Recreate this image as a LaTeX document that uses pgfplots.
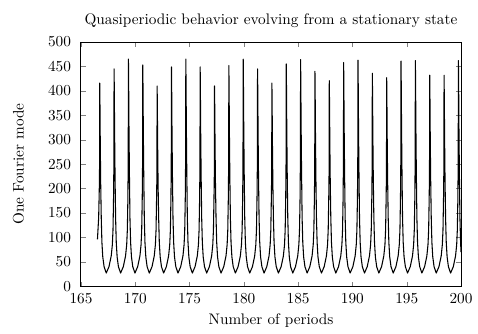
\documentclass[border=0pt]{standalone}
\usepackage{pgfplots}
\pgfplotsset{compat=1.18}
\begin{document}
\begin{tikzpicture}
\begin{axis}[
  scale only axis,
  width=249pt, height=160pt,
  xmin=165, xmax=200, ymin=0, ymax=500,
  xtick={165,170,...,200},
  ytick={0,50,...,500},
  major tick length=3pt,
  axis line style={line width=0.6pt},
  yticklabel style={xshift=-3pt},
  xticklabel style={yshift=-1.5pt},
  ylabel style={yshift=9pt},
  title={Quasiperiodic behavior evolving from a stationary state},
  xlabel={Number of periods},
  ylabel={One Fourier mode},
  clip=true,
]
\addplot[black, line width=0.7pt, line join=round] coordinates {
(166.52,96) (166.63,140) (166.68,190) (166.710,229) (166.730,416) (166.750,374) (166.780,291) (166.820,208) (166.870,140) (166.930,90) (167.010,60) (167.130,40) (167.330,27) (167.580,40)
(167.787,62) (167.891,85) (167.951,115) (168.001,180) (168.031,245) (168.051,445) (168.071,401) (168.101,312) (168.141,223) (168.191,140) (168.251,90) (168.331,60) (168.451,40) (168.651,27) (168.901,40)
(169.108,62) (169.212,85) (169.272,115) (169.322,180) (169.352,256) (169.372,465) (169.392,419) (169.422,326) (169.462,233) (169.512,140) (169.572,90) (169.652,60) (169.772,40) (169.972,27) (170.222,40)
(170.430,62) (170.534,85) (170.594,115) (170.644,180) (170.674,249) (170.694,453) (170.714,408) (170.744,317) (170.784,227) (170.834,140) (170.894,90) (170.974,60) (171.094,40) (171.294,27) (171.544,40)
(171.751,62) (171.855,85) (171.915,115) (171.965,180) (171.995,226) (172.015,410) (172.035,369) (172.065,287) (172.105,205) (172.155,140) (172.215,90) (172.295,60) (172.415,40) (172.615,27) (172.865,40)
(173.072,62) (173.176,85) (173.236,115) (173.286,180) (173.316,247) (173.336,449) (173.356,404) (173.386,314) (173.426,225) (173.476,140) (173.536,90) (173.616,60) (173.736,40) (173.936,27) (174.186,40)
(174.393,62) (174.497,85) (174.557,115) (174.607,180) (174.637,256) (174.657,465) (174.677,419) (174.707,326) (174.747,233) (174.797,140) (174.857,90) (174.937,60) (175.057,40) (175.257,27) (175.507,40)
(175.714,62) (175.818,85) (175.878,115) (175.928,180) (175.958,247) (175.978,449) (175.998,404) (176.028,314) (176.068,225) (176.118,140) (176.178,90) (176.258,60) (176.378,40) (176.578,27) (176.828,40)
(177.036,62) (177.140,85) (177.200,115) (177.250,180) (177.280,226) (177.300,410) (177.320,369) (177.350,287) (177.390,205) (177.440,140) (177.500,90) (177.580,60) (177.700,40) (177.900,27) (178.150,40)
(178.357,62) (178.461,85) (178.521,115) (178.571,180) (178.601,249) (178.621,452) (178.641,407) (178.671,316) (178.711,226) (178.761,140) (178.821,90) (178.901,60) (179.021,40) (179.221,27) (179.471,40)
(179.678,62) (179.782,85) (179.842,115) (179.892,180) (179.922,256) (179.942,465) (179.962,419) (179.992,326) (180.032,233) (180.082,140) (180.142,90) (180.222,60) (180.342,40) (180.542,27) (180.792,40)
(180.999,62) (181.103,85) (181.163,115) (181.213,180) (181.243,245) (181.263,445) (181.283,401) (181.313,312) (181.353,223) (181.403,140) (181.463,90) (181.543,60) (181.663,40) (181.863,27) (182.113,40)
(182.320,62) (182.424,85) (182.484,115) (182.534,180) (182.564,229) (182.584,416) (182.604,374) (182.634,291) (182.674,208) (182.724,140) (182.784,90) (182.864,60) (182.984,40) (183.184,27) (183.434,40)
(183.642,62) (183.746,85) (183.806,115) (183.856,180) (183.886,250) (183.906,455) (183.926,410) (183.956,319) (183.996,228) (184.046,140) (184.106,90) (184.186,60) (184.306,40) (184.506,27) (184.756,40)
(184.963,62) (185.067,85) (185.127,115) (185.177,180) (185.207,255) (185.227,464) (185.247,418) (185.277,325) (185.317,232) (185.367,140) (185.427,90) (185.507,60) (185.627,40) (185.827,27) (186.077,40)
(186.284,62) (186.388,85) (186.448,115) (186.498,180) (186.528,242) (186.548,440) (186.568,396) (186.598,308) (186.638,220) (186.688,140) (186.748,90) (186.828,60) (186.948,40) (187.148,27) (187.398,40)
(187.605,62) (187.709,85) (187.769,115) (187.819,180) (187.849,232) (187.869,421) (187.889,379) (187.919,295) (187.959,211) (188.009,140) (188.069,90) (188.149,60) (188.269,40) (188.469,27) (188.719,40)
(188.926,62) (189.030,85) (189.090,115) (189.140,180) (189.170,252) (189.190,458) (189.210,412) (189.240,321) (189.280,229) (189.330,140) (189.390,90) (189.470,60) (189.590,40) (189.790,27) (190.040,40)
(190.248,62) (190.352,85) (190.412,115) (190.462,180) (190.492,255) (190.512,463) (190.532,417) (190.562,324) (190.602,232) (190.652,140) (190.712,90) (190.792,60) (190.912,40) (191.112,27) (191.362,40)
(191.569,62) (191.673,85) (191.733,115) (191.783,180) (191.813,240) (191.833,436) (191.853,392) (191.883,305) (191.923,218) (191.973,140) (192.033,90) (192.113,60) (192.233,40) (192.433,27) (192.683,40)
(192.890,62) (192.994,85) (193.054,115) (193.104,180) (193.134,235) (193.154,427) (193.174,384) (193.204,299) (193.244,214) (193.294,140) (193.354,90) (193.434,60) (193.554,40) (193.754,27) (194.004,40)
(194.211,62) (194.315,85) (194.375,115) (194.425,180) (194.455,254) (194.475,461) (194.495,415) (194.525,323) (194.565,231) (194.615,140) (194.675,90) (194.755,60) (194.875,40) (195.075,27) (195.325,40)
(195.532,62) (195.636,85) (195.696,115) (195.746,180) (195.776,254) (195.796,462) (195.816,416) (195.846,323) (195.886,231) (195.936,140) (195.996,90) (196.076,60) (196.196,40) (196.396,27) (196.646,40)
(196.854,62) (196.958,85) (197.018,115) (197.068,180) (197.098,238) (197.118,432) (197.138,389) (197.168,302) (197.208,216) (197.258,140) (197.318,90) (197.398,60) (197.518,40) (197.718,27) (197.968,40)
(198.175,62) (198.279,85) (198.339,115) (198.389,180) (198.419,238) (198.439,432) (198.459,389) (198.489,302) (198.529,216) (198.579,140) (198.639,90) (198.719,60) (198.839,40) (199.039,27) (199.289,40)
(199.496,62) (199.600,85) (199.660,115) (199.710,180) (199.740,254) (199.760,462) (199.780,416) (199.810,323) (199.850,231) (199.900,140) (199.960,90) (200.000,70)
};
\coordinate (bl) at (rel axis cs:-0.213,-0.1885);
\coordinate (tr) at (rel axis cs:1.0447,1.172);
\end{axis}
\path (bl) rectangle (tr);
\end{tikzpicture}
\end{document}
